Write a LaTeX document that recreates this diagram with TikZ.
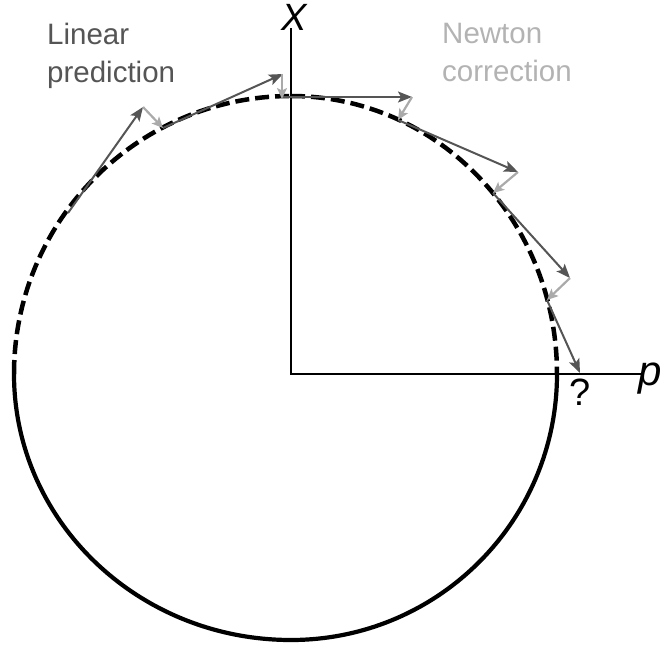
\documentclass[tikz,border=0pt]{standalone}
\usepackage{fontspec}
\setmainfont{Liberation Sans}
\usetikzlibrary{arrows.meta}
\definecolor{predcol}{HTML}{555555}
\definecolor{corrcol}{HTML}{AAAAAA}
\definecolor{corrtext}{HTML}{B3B3B3}
\begin{document}
\begin{tikzpicture}[x=1pt,y=-1pt,
  axisline/.style={line width=2pt, black},
  curvesolid/.style={line width=4.2pt, black},
  curvedash/.style={line width=4.5pt, black, dash pattern=on 14pt off 6pt},
  predarrow/.style={predcol, line width=2pt, -{Stealth[length=14pt,width=11pt,inset=3pt]}},
  corrarrow/.style={corrcol, line width=2.2pt, -{Stealth[length=11pt,width=10pt,inset=2.5pt]}},
  lbltext/.style={inner sep=0pt, align=left, anchor=north west, font=\fontsize{29.5}{38}\selectfont},
  mathlbl/.style={inner sep=0pt, font=\fontsize{38}{42}\selectfont}]
\useasboundingbox (0,0) rectangle (662,648);
% named points
\coordinate (O) at (291,374);
\coordinate (Xend) at (291,28);
\coordinate (Pend) at (641,374);
\coordinate (L) at (14,374);
\coordinate (T) at (291,96);
\coordinate (R) at (557,374);
\coordinate (B) at (291,640);
\coordinate (P0) at (68,213);
\coordinate (Q1) at (143,107);
\coordinate (P1) at (163,128);
\coordinate (Q2) at (283,74);
\coordinate (P2) at (283,97);
\coordinate (Q3) at (412,97);
\coordinate (P3) at (398,120);
\coordinate (Q4) at (518,172);
\coordinate (P4) at (493,193);
\coordinate (Q5) at (570,278);
\coordinate (P5) at (547,300);
\coordinate (Q6) at (580,373);
\coordinate (C2) at (282,99);
% axes
\draw[axisline] (Xend) -- (O) -- (Pend);
% curve
\draw[curvedash] (L) arc[start angle=180, end angle=90, x radius=277pt, y radius=278pt];
\draw[curvedash] (T) arc[start angle=90, end angle=0, x radius=266pt, y radius=278pt];
\draw[curvesolid] (R) arc[start angle=0, end angle=-90, x radius=266pt, y radius=266pt]
  arc[start angle=-90, end angle=-180, x radius=277pt, y radius=266pt];
% predictor arrows
\draw[predarrow] (P0) -- (Q1);
\draw[predarrow] (P1) -- (Q2);
\draw[predarrow] (P2) -- (Q3);
\draw[predarrow] (P3) -- (Q4);
\draw[predarrow] (P4) -- (Q5);
\draw[predarrow] (P5) -- (Q6);
% corrector arrows
\draw[corrarrow] (Q1) -- (P1);
\draw[corrarrow] ([xshift=-1pt]Q2) -- (C2);
\draw[corrarrow] (Q3) -- (P3);
\draw[corrarrow] (Q4) -- (P4);
\draw[corrarrow] (Q5) -- (P5);
% labels
\node[lbltext, text=predcol] (lin) at (47,23) {Linear\\prediction};
\node[lbltext, text=corrtext] (newt) at (442,23) {Newton\\correction};
\node[mathlbl, anchor=base] (xl) at (294,30) {\itshape X};
\node[mathlbl, anchor=base west, font=\fontsize{42}{46}\selectfont] (pl) at (638,385) {\itshape p};
\node[mathlbl, anchor=base] (ql) at (580,405) {?};
\end{tikzpicture}
\end{document}
